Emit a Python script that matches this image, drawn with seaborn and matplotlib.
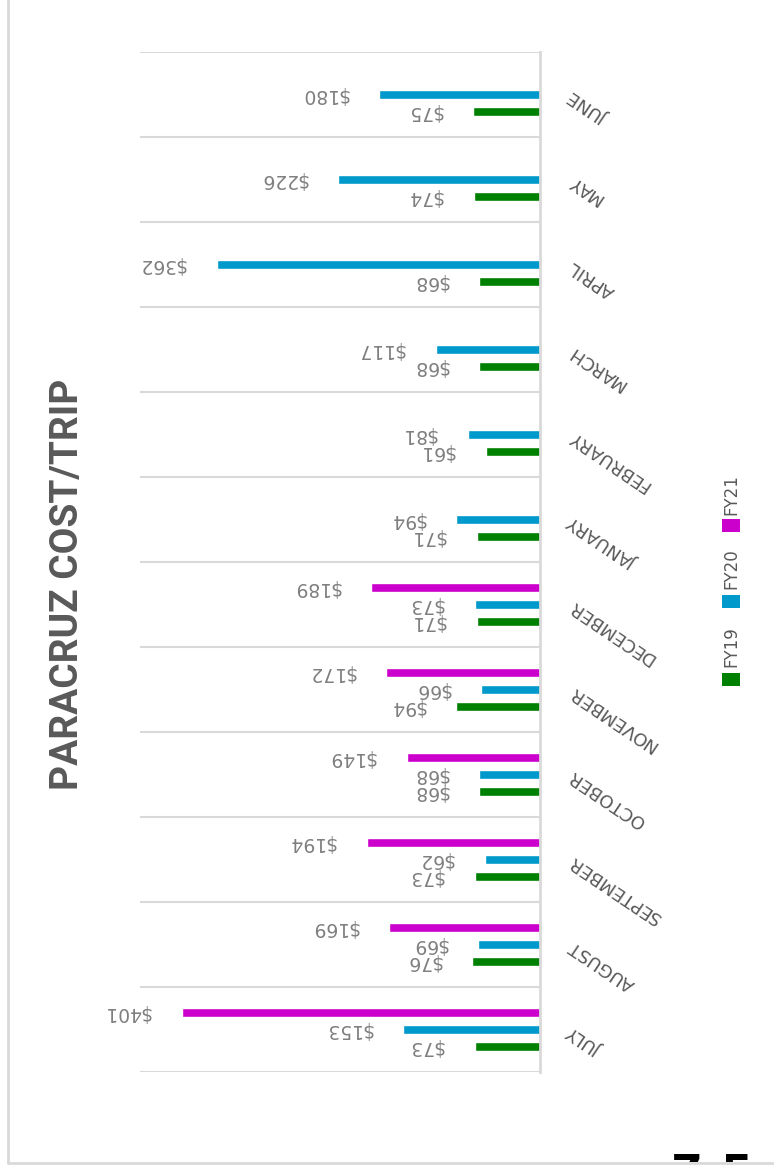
import numpy as np
import pandas as pd
import matplotlib
matplotlib.use("Agg")
import matplotlib.pyplot as plt
import seaborn as sns
from matplotlib.lines import Line2D
from matplotlib.patches import Rectangle
from matplotlib.transforms import Bbox
from matplotlib import font_manager

# ---- data -------------------------------------------------------------
months = ["JULY", "AUGUST", "SEPTEMBER", "OCTOBER", "NOVEMBER", "DECEMBER",
          "JANUARY", "FEBRUARY", "MARCH", "APRIL", "MAY", "JUNE"]
fy19 = [73, 76, 73, 68, 94, 71, 71, 61, 68, 68, 74, 75]
fy20 = [153, 69, 62, 68, 66, 73, 94, 81, 117, 362, 226, 180]
fy21 = [401, 169, 194, 149, 172, 189, None, None, None, None, None, None]
series = ["FY19", "FY20", "FY21"]
colors = {"FY19": "#008000", "FY20": "#0099CC", "FY21": "#CC00CC"}
title = "PARACRUZ COST/TRIP"
page_mark = "7-5"

rows = []
for name, vals in zip(series, [fy19, fy20, fy21]):
    for m, v in zip(months, vals):
        if v is not None:
            rows.append({"month": m, "year": name, "cost": v})
df = pd.DataFrame(rows)

# ---- styling ----------------------------------------------------------
sns.set_style("white")
plt.rcParams["font.family"] = ["DejaVu Sans"]


def pick_family(candidates, weight="normal"):
    for fam in candidates:
        try:
            font_manager.findfont(font_manager.FontProperties(family=fam, weight=weight),
                                  fallback_to_default=False)
            return fam
        except Exception:
            pass
    return "DejaVu Sans"


title_family = pick_family(["Liberation Sans Narrow", "Roboto", "Open Sans"], "bold")

W, H = 774, 1167
fig = plt.figure(figsize=(W / 100, H / 100), dpi=100)
fig.patch.set_facecolor("white")


def fx(x):
    return x / W


def fy(y):
    return 1 - y / H


ax = fig.add_axes([fx(140), fy(1072), (540 - 140) / W, (1072 - 52) / H])

sns.barplot(data=df, x="cost", y="month", hue="year",
            order=months[::-1], hue_order=series[::-1],
            palette=colors, orient="h", width=0.6, gap=0.47,
            saturation=1, legend=False, ax=ax)

ax.set_xlim(448, 0)
ax.set_ylim(len(months) - 0.5, -0.5)
ax.set_xlabel("")
ax.set_ylabel("")
ax.set_xticks([])

# category separators
ax.set_yticks(np.arange(-0.5, len(months)), minor=True)
ax.grid(which="minor", axis="y", color="#d9d9d9", linewidth=1.5)
ax.grid(which="major", visible=False)
ax.tick_params(which="minor", length=0)

for side in ["top", "bottom", "left"]:
    ax.spines[side].set_visible(False)
ax.spines["right"].set_color("#d9d9d9")
ax.spines["right"].set_linewidth(2)

# value labels, upside down beyond each bar end
for cont in ax.containers:
    for patch in cont:
        v = patch.get_width()
        if not np.isfinite(v) or v <= 0:
            continue
        yc = patch.get_y() + patch.get_height() / 2
        ax.annotate(f"${v:.0f}", xy=(v, yc), xytext=(-31, 0),
                    textcoords="offset pixels", ha="right", va="center",
                    rotation=180, fontsize=13.5, color="#7f7f7f")

# month labels on the right, slanted
ax.yaxis.tick_right()
ax.tick_params(axis="y", which="major", length=0, pad=22,
               labelsize=13, labelcolor="#595959")
for lbl in ax.get_yticklabels():
    lbl.set_rotation(146)
    lbl.set_rotation_mode("anchor")
    lbl.set_ha("right")
    lbl.set_va("center")

# title
t = fig.text(fx(68), fy(584), title, rotation=90, ha="center", va="center",
             fontsize=32, fontweight="bold", color="#595959", family=title_family)
fig.canvas.draw()
ext = t.get_window_extent()
t.set_fontsize(32 * 412 / ext.height)

# legend
legend_items = [("FY19", 679, 647), ("FY20", 601, 569), ("FY21", 525, 495)]
for name, sq_y, txt_y in legend_items:
    fig.add_artist(Rectangle((fx(722), fy(sq_y + 6.5)), 18 / W, 13 / H,
                             transform=fig.transFigure, facecolor=colors[name],
                             edgecolor="none"))
    fig.text(fx(731), fy(txt_y), name, rotation=90, ha="center", va="center",
             fontsize=12, color="#595959")

# page frame
fig.add_artist(Line2D([fx(8), fx(8)], [fy(0), fy(1163)], transform=fig.transFigure,
                      color="#d9d9d9", linewidth=2))
fig.add_artist(Line2D([fx(8), fx(W)], [fy(1163), fy(1163)], transform=fig.transFigure,
                      color="#d9d9d9", linewidth=2))

# page number peeking in at the bottom edge
pm = fig.text(fx(712), fy(1153), page_mark, ha="center", va="top",
              fontsize=33, fontweight="bold", color="black")
pm.set_clip_box(Bbox([[0, 5], [W, H]]))
pm.set_clip_on(True)

fig.savefig("out.png", dpi=100, facecolor="white")
